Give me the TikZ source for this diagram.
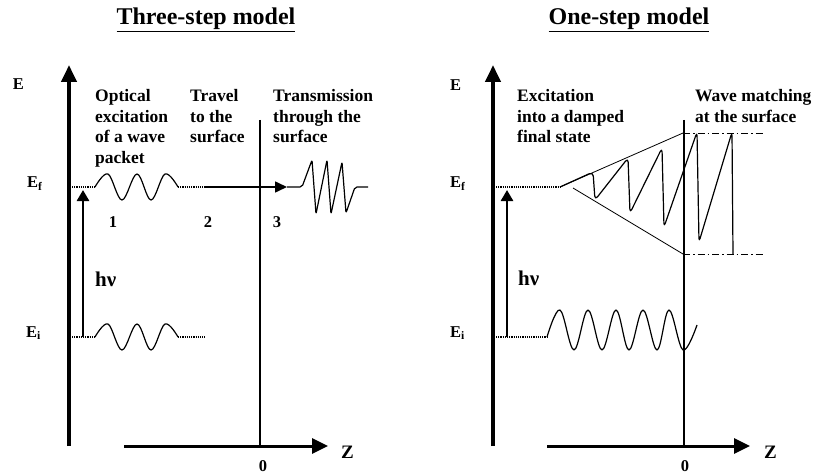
\documentclass[tikz,border=0pt]{standalone}
\usepackage{fontspec}
\setmainfont{Liberation Serif}
\usetikzlibrary{arrows.meta}

\begin{document}
\begin{tikzpicture}[
    x=1pt, y=-1pt,
    axis/.style={line width=4pt, -{Triangle[length=17pt, width=15pt]}},
    zaxis/.style={line width=3pt, -{Triangle[length=16pt, width=15pt]}},
    surf/.style={line width=2.6pt},
    photon/.style={line width=2.6pt, -{Triangle[length=11pt, width=12pt]}},
    flight/.style={line width=1.6pt, -{Triangle[length=12pt, width=11pt]}},
    level/.style={line width=2pt, dash pattern=on 1.2pt off 1pt},
    wave/.style={line width=1.2pt, line join=round},
    guide/.style={line width=0.8pt},
    dashdot/.style={line width=0.8pt, dash pattern=on 7pt off 3pt on 1.5pt off 3pt},
    lbl/.style={font=\fontsize{17.5}{20.5}\selectfont\bfseries, align=left, anchor=base west, inner sep=0pt},
    sym/.style={font=\fontsize{16.5}{20}\selectfont\bfseries, inner sep=0pt},
    big/.style={font=\fontsize{21}{24}\selectfont\bfseries, inner sep=0pt},
    ttl/.style={font=\fontsize{24}{28}\selectfont\bfseries, anchor=base, inner sep=0pt},
]
\useasboundingbox (0,0) rectangle (817,476);

% ---- Three-step model ----
\node[ttl] (ttlA) at (206,25) {\underline{Three-step model}};
\draw[axis]  (69,446) -- (69,65);
\draw[zaxis] (124,446) -- (328,446);
\draw[surf]  (260,120) -- (260,446);
\node[sym, anchor=base] (eA)  at (18.5,90) {E};
\node[sym, anchor=base west] (efA) at (27,188) {E\textsubscript{f}};
\node[sym, anchor=base west] (eiA) at (26,337) {E\textsubscript{i}};
\node[big, anchor=base west, font=\fontsize{19}{22}\selectfont\bfseries] (zA) at (341,458) {Z};
\node[sym, anchor=base] (zeroA) at (263,471) {0};

% base anchor sits on the last line
\node[lbl] (optA)   at (95,163.5) {Optical\\excitation\\of a wave\\packet};
\node[lbl] (travA)  at (190,143)  {Travel\\to the\\surface};
\node[lbl] (transA) at (273,143)  {Transmission\\through the\\surface};
\node[sym, anchor=base] (oneA)   at (113,227) {1};
\node[sym, anchor=base] (twoA)   at (208,227) {2};
\node[sym, anchor=base] (threeA) at (277,227) {3};

\coordinate (fA) at (72,187);
\coordinate (iA) at (72,337);
% final state packet
\draw[level] (fA) -- (95,187);
\draw[wave] plot[smooth, tension=0.6] coordinates {(95,187) (108,174) (122,200) (137,174)
    (151,200) (165,174) (178,187)};
\draw[level] (178,187) -- (205,187);
\coordinate (goA) at (205,187);
\coordinate (outA) at (287,187);
\draw[flight] (goA) -- (outA);
\draw[wave, rounded corners=2pt] (outA) -- (302,187) -- (312,160) -- (316,214) -- (327,160)
    -- (331,214) -- (342,162) -- (346,213) -- (355,187) -- (368,187);
% initial state packet
\draw[level] (iA) -- (95,337);
\draw[wave] plot[smooth, tension=0.6] coordinates {(95,337) (108,324) (122,350) (137,324)
    (151,350) (165,324) (178,337)};
\draw[level] (178,337) -- (205,337);
\draw[photon] (83,337) -- (83,190);
\node[big, anchor=base west] (hvA) at (95,286) {hν};

% ---- One-step model ----
\node[ttl] (ttlB) at (629,25) {\underline{One-step model}};
\draw[axis]  (493,446) -- (493,65);
\draw[zaxis] (547,446) -- (750,446);
\draw[surf]  (684,120) -- (684,446);
\node[sym, anchor=base west] (eB)  at (450,91) {E};
\node[sym, anchor=base west] (efB) at (450,188) {E\textsubscript{f}};
\node[sym, anchor=base west] (eiB) at (450,337) {E\textsubscript{i}};
\node[big, anchor=base west, font=\fontsize{19}{22}\selectfont\bfseries] (zB) at (764,458) {Z};
\node[sym, anchor=base] (zeroB) at (685,471) {0};

\node[lbl] (excB)   at (517,143)   {Excitation\\into a damped\\final state};
\node[lbl] (matchB) at (695,122.5) {Wave matching\\at the surface};

\coordinate (fB) at (496,187);
\coordinate (iB) at (496,337);
% damped final state
\draw[level] (fB) -- (560,187);
\draw[guide] (560,187) -- (683,133);
\draw[guide] (573,188) -- (683,254);
\draw[dashdot] (683,133) -- (765,133);
\draw[dashdot] (683,254) -- (765,254);
\draw[wave, rounded corners=4pt] (560,187) -- (593,172) -- (595,200) -- (628,158) -- (630,213)
    -- (662,148) -- (664,227) -- (697,132) -- (699,242) -- (732,132) -- (733,254);
% initial state
\draw[level] (iB) -- (547,337);
\draw[wave] plot[smooth, tension=0.6] coordinates {(547,337) (560,310) (574,350) (588,310)
    (602,350) (616,310) (629,350) (643,310) (657,350) (669,310) (683,350) (697,325)};
\draw[photon] (507,337) -- (507,190);
\node[big, anchor=base west] (hvB) at (518,285) {hν};
\end{tikzpicture}
\end{document}
